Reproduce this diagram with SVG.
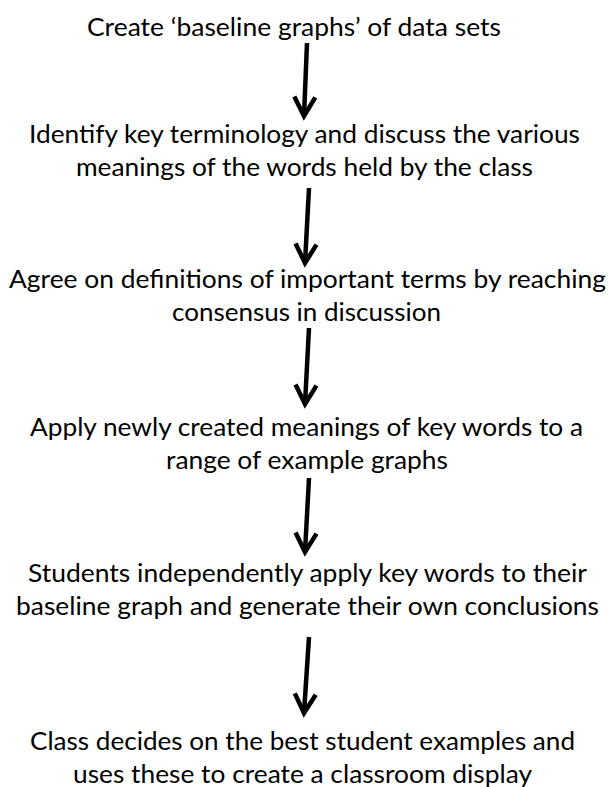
<svg xmlns="http://www.w3.org/2000/svg" width="609" height="787" viewBox="0 0 609 787">
  <style>
    .t { font-family: Lato, "Liberation Sans", sans-serif; font-size: 25px; fill: #000; text-anchor: middle; }
    .arrow { stroke: #000; stroke-width: 4.5; fill: none; marker-end: url(#head); }
  </style>
  <defs>
    <marker id="head" markerUnits="userSpaceOnUse" orient="auto" viewBox="-24 -14 28 28" markerWidth="28" markerHeight="28" refX="0" refY="0" overflow="visible">
      <path d="M-19,-10.5 L0,0 L-19,10.5" fill="none" stroke="#000" stroke-width="4.5" stroke-linejoin="miter"/>
    </marker>
  </defs>
  <rect width="609" height="787" fill="#ffffff"/>

  <g id="step1">
    <text class="t" x="294" y="36" textLength="414" lengthAdjust="spacingAndGlyphs">Create ‘baseline graphs’ of data sets</text>
  </g>
  <g id="step2">
    <text class="t" x="304.5" y="143" textLength="551" lengthAdjust="spacingAndGlyphs">Identify key terminology and discuss the various</text>
    <text class="t" x="304.5" y="176" textLength="457" lengthAdjust="spacingAndGlyphs">meanings of the words held by the class</text>
  </g>
  <g id="step3">
    <text class="t" x="307.5" y="288" textLength="597" lengthAdjust="spacingAndGlyphs">Agree on definitions of important terms by reaching</text>
    <text class="t" x="306.5" y="321" textLength="269" lengthAdjust="spacingAndGlyphs">consensus in discussion</text>
  </g>
  <g id="step4">
    <text class="t" x="306.5" y="436" textLength="553" lengthAdjust="spacingAndGlyphs">Apply newly created meanings of key words to a</text>
    <text class="t" x="307" y="469" textLength="282" lengthAdjust="spacingAndGlyphs">range of example graphs</text>
  </g>
  <g id="step5">
    <text class="t" x="307.5" y="582" textLength="559" lengthAdjust="spacingAndGlyphs">Students independently apply key words to their</text>
    <text class="t" x="307.5" y="615" textLength="583" lengthAdjust="spacingAndGlyphs">baseline graph and generate their own conclusions</text>
  </g>
  <g id="step6">
    <text class="t" x="302.5" y="750" textLength="545" lengthAdjust="spacingAndGlyphs">Class decides on the best student examples and</text>
    <text class="t" x="302.5" y="783" textLength="459" lengthAdjust="spacingAndGlyphs">uses these to create a classroom display</text>
  </g>

  <g id="connectors">
    <line class="arrow" x1="307" y1="43" x2="304" y2="116"/>
    <line class="arrow" x1="309" y1="188" x2="305" y2="263"/>
    <line class="arrow" x1="309" y1="328" x2="305" y2="404"/>
    <line class="arrow" x1="309" y1="478" x2="305" y2="552"/>
    <line class="arrow" x1="309" y1="637" x2="304" y2="713"/>
  </g>
</svg>
